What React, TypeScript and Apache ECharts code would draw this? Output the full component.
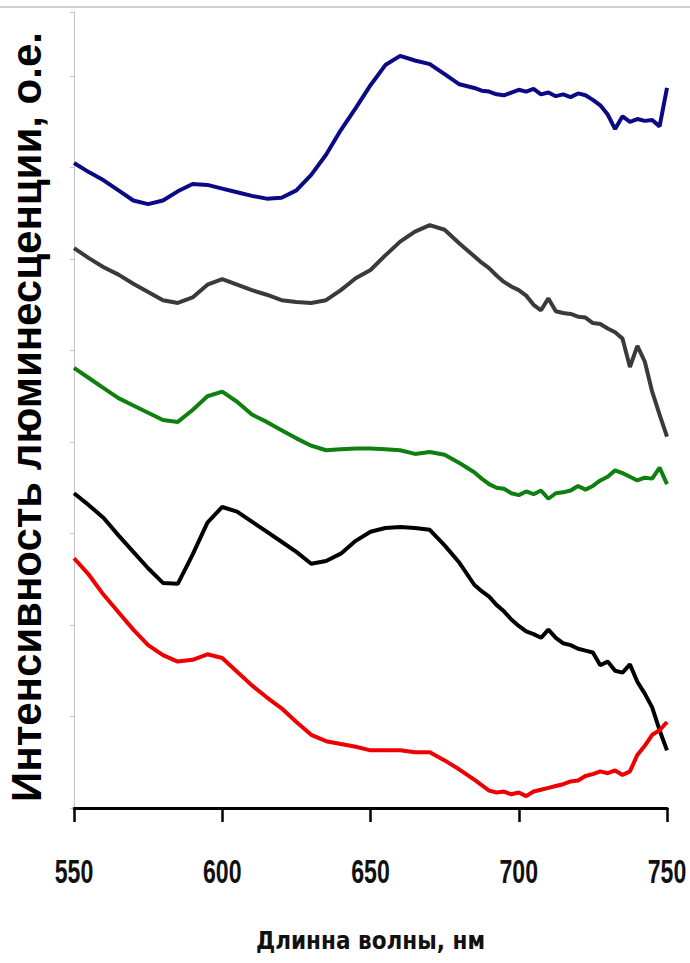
import React, { useEffect, useRef } from "react";
import * as echarts from "echarts";

const wavelengths = [
  550, 555, 560, 565, 570, 575, 580, 585, 590, 595, 600, 605, 610, 615, 620, 625, 630, 635, 640, 645,
  650, 655, 660, 665, 670, 675, 680, 685,
  687.5, 690, 692.5, 695, 697.5, 700, 702.5, 705, 707.5, 710, 712.5, 715, 717.5, 720, 722.5, 725,
  727.5, 730, 732.5, 735, 737.5, 740, 742.5, 745, 747.5, 750,
];

const xTickLabels = ["550", "600", "650", "700", "750"];

const blueValues = [
  7.05, 6.95, 6.86, 6.75, 6.64, 6.6, 6.64, 6.74, 6.82, 6.81, 6.77, 6.73, 6.69, 6.66, 6.67, 6.75, 6.92, 7.14, 7.41, 7.65,
  7.9, 8.12, 8.22, 8.17, 8.13, 8.02, 7.91, 7.87,
  7.84, 7.83, 7.8, 7.79, 7.82, 7.85, 7.83, 7.86, 7.8, 7.82, 7.78, 7.8, 7.77, 7.81, 7.79, 7.74,
  7.68, 7.58, 7.42, 7.56, 7.5, 7.53, 7.51, 7.52, 7.45, 7.87,
];

const grayValues = [
  6.12, 6.01, 5.91, 5.83, 5.73, 5.64, 5.55, 5.52, 5.58, 5.72, 5.78, 5.72, 5.66, 5.61, 5.55, 5.53, 5.52, 5.55, 5.66, 5.79,
  5.88, 6.04, 6.19, 6.3, 6.37, 6.32, 6.17, 6.03,
  5.96, 5.9, 5.82, 5.75, 5.7, 5.66, 5.6, 5.5, 5.44, 5.57, 5.43, 5.41, 5.4, 5.37, 5.36, 5.3,
  5.29, 5.24, 5.2, 5.13, 4.82, 5.05, 4.88, 4.55, 4.3, 4.06,
];

const greenValues = [
  4.81, 4.7, 4.59, 4.48, 4.4, 4.32, 4.24, 4.22, 4.35, 4.5, 4.55, 4.44, 4.3, 4.22, 4.13, 4.04, 3.96, 3.91, 3.92, 3.93,
  3.93, 3.92, 3.91, 3.87, 3.89, 3.86, 3.77, 3.67,
  3.6, 3.54, 3.5, 3.49, 3.44, 3.42, 3.46, 3.43, 3.47, 3.38, 3.44, 3.45, 3.47, 3.52, 3.48, 3.52,
  3.58, 3.62, 3.69, 3.66, 3.62, 3.58, 3.61, 3.6, 3.72, 3.54,
];

const blackValues = [
  3.44, 3.31, 3.17, 2.98, 2.8, 2.62, 2.46, 2.45, 2.77, 3.12, 3.29, 3.24, 3.13, 3.02, 2.91, 2.8, 2.67, 2.7, 2.78, 2.92,
  3.02, 3.06, 3.07, 3.06, 3.04, 2.87, 2.68, 2.44,
  2.37, 2.31, 2.22, 2.15, 2.06, 1.99, 1.93, 1.9, 1.86, 1.95, 1.86, 1.8, 1.78, 1.74, 1.72, 1.7,
  1.56, 1.6, 1.5, 1.48, 1.57, 1.38, 1.25, 1.1, 0.85, 0.63,
];

const redValues = [
  2.73, 2.55, 2.33, 2.14, 1.95, 1.78, 1.67, 1.6, 1.62, 1.68, 1.64, 1.49, 1.34, 1.21, 1.09, 0.94, 0.8, 0.73, 0.7, 0.67,
  0.63, 0.63, 0.63, 0.61, 0.61, 0.52, 0.42, 0.31,
  0.25, 0.19, 0.17, 0.18, 0.15, 0.17, 0.13, 0.18, 0.2, 0.22, 0.24, 0.26, 0.29, 0.3, 0.35, 0.37,
  0.4, 0.38, 0.41, 0.36, 0.4, 0.58, 0.68, 0.8, 0.85, 0.94,
];

const seriesDefs = [
  { name: "1", values: blueValues, color: "#0a0a85" },
  { name: "2", values: grayValues, color: "#3a3a3a" },
  { name: "3", values: greenValues, color: "#0f7f0f" },
  { name: "4", values: blackValues, color: "#000000" },
  { name: "5", values: redValues, color: "#ee0000" },
];

const xTitle = "Длинна волны, нм";
const yTitle = "Интенсивность люминесценции, о.е.";

export default function App() {
  const ref = useRef<HTMLDivElement>(null);
  useEffect(() => {
    if (!ref.current) return;
    const chart = echarts.init(ref.current, undefined, { renderer: "svg" });
    const narrow = "'Liberation Sans Narrow', 'DejaVu Sans Condensed', 'Arial Narrow', sans-serif";
    chart.setOption({
      animation: false,
      backgroundColor: "#ffffff",
      grid: { left: 74, right: 23, top: 12, bottom: 155, outerBoundsMode: "none", containLabel: false },
      xAxis: {
        type: "value",
        min: 550,
        max: 750,
        interval: 50,
        name: xTitle,
        nameLocation: "middle",
        nameGap: 121,
        nameTextStyle: { fontFamily: narrow, fontWeight: "bold", fontSize: 24, color: "#111" },
        axisLine: { show: true, onZero: false, lineStyle: { color: "#000", width: 3 } },
        axisTick: { show: true, length: 14, lineStyle: { color: "#000", width: 2.5 } },
        axisLabel: { show: false },
        splitLine: { show: false },
      },
      yAxis: {
        type: "value",
        min: 0,
        max: 8.7,
        interval: 1,
        name: yTitle,
        nameLocation: "middle",
        nameGap: 27,
        nameTextStyle: {
          fontFamily: "'Liberation Sans', Arial, sans-serif",
          fontWeight: "bold",
          fontSize: 42,
          color: "#000",
          padding: [0, 14, 0, 0],
        },
        axisLine: { show: true, lineStyle: { color: "#c4c4c4", width: 1 } },
        axisTick: { show: true, length: 4, lineStyle: { color: "#c4c4c4", width: 1 } },
        axisLabel: { show: false },
        splitLine: { show: false },
      },
      series: seriesDefs.map((s) => ({
        name: s.name,
        type: "line",
        showSymbol: false,
        symbol: "none",
        smooth: false,
        data: wavelengths.map((w, i) => [w, s.values[i]]),
        lineStyle: { color: s.color, width: 4 },
        itemStyle: { color: s.color },
      })),
    });
    const axisY = chart.convertToPixel({ yAxisIndex: 0 }, 0) as number;
    const labelEls = xTickLabels.map((t) => ({
      type: "text",
      x: chart.convertToPixel({ xAxisIndex: 0 }, Number(t)) as number,
      y: axisY + 63,
      scaleX: 0.68,
      silent: true,
      style: {
        text: t,
        fontFamily: "'Liberation Sans', Arial, sans-serif",
        fontWeight: "bold",
        fontSize: 34,
        fill: "#111",
        align: "center",
        verticalAlign: "middle",
      },
    }));
    chart.setOption({
      graphic: [
        {
          type: "line",
          shape: { x1: 0, y1: 7, x2: 690, y2: 7 },
          style: { stroke: "#a0a0a0", lineWidth: 1 },
        },
        ...labelEls,
      ],
    });
    return () => chart.dispose();
  }, []);
  return (
    <div
      ref={ref}
      style={{ position: "fixed", left: 0, top: 0, width: 690, height: 963, background: "#fff" }}
    />
  );
}
